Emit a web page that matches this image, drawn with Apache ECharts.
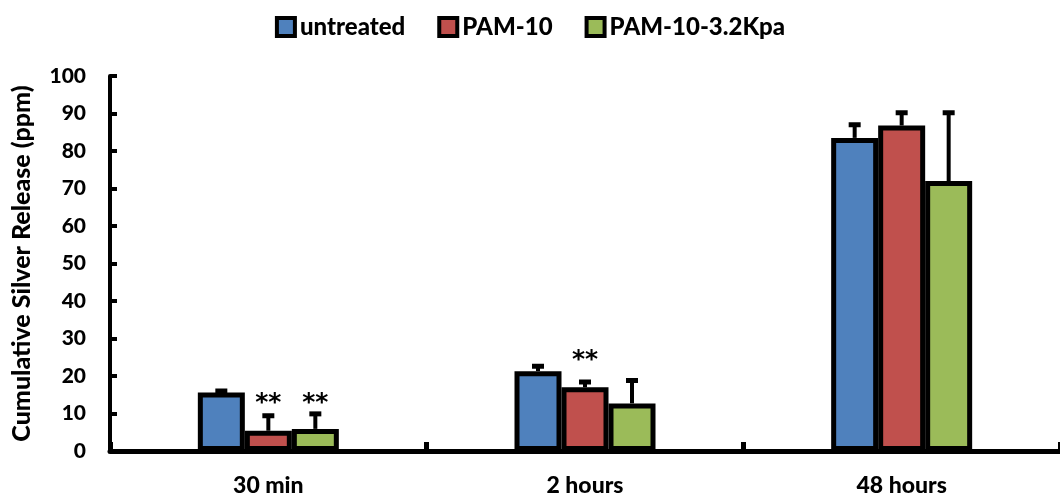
<!DOCTYPE html>
<html>
<head>
<meta charset="utf-8">
<script src="https://cdn.jsdelivr.net/npm/echarts@6/dist/echarts.min.js"></script>
<style>
html,body{margin:0;padding:0;background:#fff;}
#chart{width:1060px;height:497px;}
</style>
</head>
<body>
<div id="chart"></div>
<script>
const categories = ['30 min', '2 hours', '48 hours'];
const seriesNames = ['untreated', 'PAM-10', 'PAM-10-3.2Kpa'];
const untreated = [15.6, 21.3, 83.5];
const pam10 = [5.4, 17.0, 86.8];
const pam10Kpa = [5.9, 12.7, 72.0];
const untreatedErr = [0.4, 1.3, 3.5];
const pam10Err = [4.0, 1.4, 3.4];
const pam10KpaErr = [4.0, 6.1, 18.2];
// significance marks: [categoryIndex, seriesIndex, yPosition, text]
const starMarks = [[0, 1, 12.6, '**'], [0, 2, 12.6, '**'], [1, 1, 24.2, '**']];
const yTicks = [0, 10, 20, 30, 40, 50, 60, 70, 80, 90, 100];

const colors = ['#4F81BD', '#C0504D', '#9BBB59'];
const values = [untreated, pam10, pam10Kpa];
const errs = [untreatedErr, pam10Err, pam10KpaErr];
const FONT = 'Lato';
const FW = 900;
const BAR_W = 47;

const chart = echarts.init(document.getElementById('chart'), null, {renderer: 'canvas'});

const barSeries = seriesNames.map((name, i) => ({
  name: name,
  type: 'bar',
  data: values[i],
  barWidth: BAR_W,
  barGap: '0%',
  itemStyle: {color: colors[i], borderColor: '#000', borderWidth: 5},
  z: 2
}));

const errData = [];
for (let s = 0; s < 3; s++) {
  for (let c = 0; c < categories.length; c++) {
    errData.push([c, values[s][c], values[s][c] + errs[s][c], s]);
  }
}

const errSeries = {
  type: 'custom',
  name: 'err',
  data: errData,
  z: 1,
  silent: true,
  encode: {x: 0, y: [1, 2]},
  renderItem: function (params, api) {
    const c = api.value(0), v = api.value(1), top = api.value(2), s = api.value(3);
    const off = (s - 1) * BAR_W;
    const p0 = api.coord([c, v]);
    const p1 = api.coord([c, top]);
    const x = p0[0] + off;
    return {
      type: 'group',
      children: [
        {type: 'line', shape: {x1: x, y1: p0[1], x2: x, y2: p1[1]}, style: {stroke: '#000', lineWidth: 4}},
        {type: 'line', shape: {x1: x - 6, y1: p1[1], x2: x + 6, y2: p1[1]}, style: {stroke: '#000', lineWidth: 5}}
      ]
    };
  }
};

const starSeries = {
  type: 'custom',
  name: 'stars',
  data: starMarks,
  z: 3,
  silent: true,
  encode: {x: 0, y: 2},
  renderItem: function (params, api) {
    const c = api.value(0), s = api.value(1), y = api.value(2);
    const p = api.coord([c, y]);
    const x = p[0] + (s - 1) * BAR_W;
    return {
      type: 'text',
      style: {
        text: starMarks[params.dataIndex][3],
        x: x, y: p[1],
        align: 'center', verticalAlign: 'middle',
        font: 'bold 25px "DejaVu Sans"',
        fill: '#000'
      }
    };
  }
};

chart.setOption({
  animation: false,
  backgroundColor: '#fff',
  legend: {
    data: seriesNames,
    top: 10,
    left: 'center',
    itemWidth: 18,
    itemHeight: 18,
    itemGap: 32,
    icon: 'rect',
    itemStyle: {borderColor: '#000', borderWidth: 4},
    textStyle: {fontFamily: FONT, fontWeight: FW, fontSize: 24, color: '#000'}
  },
  grid: {left: 110, right: -7, top: 76, bottom: 45.5, containLabel: false},
  xAxis: {
    type: 'category',
    data: categories,
    axisLine: {lineStyle: {color: '#000', width: 5}},
    axisTick: {show: true, inside: true, length: 9, lineStyle: {color: '#000', width: 5}},
    axisLabel: {margin: 23, fontFamily: FONT, fontWeight: FW, fontSize: 23, color: '#000'},
    splitLine: {show: false}
  },
  yAxis: {
    type: 'value',
    min: yTicks[0],
    max: yTicks[yTicks.length - 1],
    interval: yTicks[1] - yTicks[0],
    name: 'Cumulative Silver Release (ppm)',
    nameLocation: 'middle',
    nameGap: 76,
    nameTextStyle: {fontFamily: FONT, fontWeight: FW, fontSize: 25, color: '#000'},
    axisLine: {show: true, lineStyle: {color: '#000', width: 4}},
    axisTick: {show: true, inside: true, length: 7, lineStyle: {color: '#000', width: 4}},
    axisLabel: {margin: 24, fontFamily: FONT, fontWeight: FW, fontSize: 21, color: '#000'},
    splitLine: {show: false}
  },
  series: [...barSeries, errSeries, starSeries]
});
</script>
</body>
</html>
